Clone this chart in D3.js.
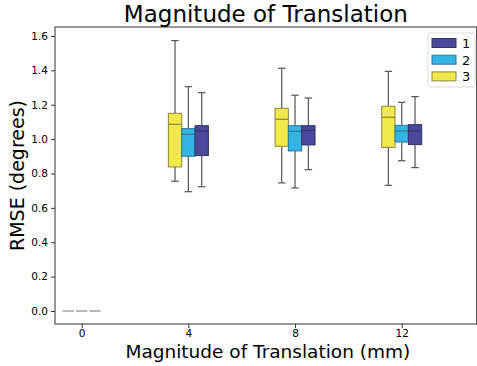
<!DOCTYPE html>
<html>
<head>
<meta charset="utf-8">
<script src="https://cdn.jsdelivr.net/npm/d3@7"></script>
<style>
  body { margin: 0; background: #fff; }
  text { font-family: "DejaVu Sans", sans-serif; fill: #000; }
</style>
</head>
<body>
<div id="chart"></div>
<script>
// categories on the x axis
const categories = ["0", "4", "8", "12"];
// series in legend order
const seriesNames = ["1", "2", "3"];
// box stats per category: [whisker low, q1, median, q3, whisker high]
const stats1 = [[0, 0, 0, 0, 0], [0.723, 0.904, 1.047, 1.078, 1.270], [0.822, 0.966, 1.051, 1.078, 1.239], [0.834, 0.968, 1.047, 1.084, 1.247]];
const stats2 = [[0, 0, 0, 0, 0], [0.694, 0.900, 1.028, 1.061, 1.305], [0.716, 0.931, 1.045, 1.078, 1.255], [0.874, 0.983, 1.047, 1.080, 1.214]];
const stats3 = [[0, 0, 0, 0, 0], [0.755, 0.838, 1.086, 1.150, 1.573], [0.745, 0.958, 1.115, 1.179, 1.412], [0.731, 0.952, 1.127, 1.191, 1.394]];
const yTicks = [0, 0.2, 0.4, 0.6, 0.8, 1.0, 1.2, 1.4, 1.6];

const statsBySeries = { "1": stats1, "2": stats2, "3": stats3 };
const colors = { "1": "#4a4a9c", "2": "#35b3e3", "3": "#f1e84a" };
const edges = { "1": "#333366", "2": "#2a7a99", "3": "#8a8540" };
// draw order from left to right within a group
const drawOrder = ["3", "2", "1"];

const width = 477, height = 366;
const margin = { top: 27, right: 0, bottom: 42, left: 55 };
const innerW = 421.7, innerH = height - margin.top - margin.bottom;

const svg = d3.select("#chart").append("svg")
    .attr("width", width)
    .attr("height", height);

const g = svg.append("g")
    .attr("transform", "translate(" + margin.left + "," + margin.top + ")");

const x = d3.scalePoint()
    .domain(categories)
    .range([26.7, 346.7]);

const y = d3.scaleLinear()
    .domain([-0.0756, 1.652])
    .range([innerH, 0]);

const boxW = x.step() * 0.125;

// boxes
drawOrder.forEach(function(s, si) {
  const off = (si - 1) * boxW;
  const data = statsBySeries[s].map((d, i) => ({ cat: categories[i], v: d }));
  const grp = g.append("g").attr("class", "series-" + s);

  data.forEach(function(d) {
    const cx = x(d.cat) + off;
    const [lo, q1, med, q3, hi] = d.v;
    if (hi === 0) {
      // flat group at zero
      grp.append("line")
          .attr("x1", cx - boxW / 2 + 1).attr("x2", cx + boxW / 2 - 1)
          .attr("y1", y(0)).attr("y2", y(0))
          .attr("stroke", "#888").attr("stroke-width", 1.2);
      return;
    }
    // whiskers
    grp.append("line")
        .attr("x1", cx).attr("x2", cx)
        .attr("y1", y(hi)).attr("y2", y(q3))
        .attr("stroke", "#555").attr("stroke-width", 1.2);
    grp.append("line")
        .attr("x1", cx).attr("x2", cx)
        .attr("y1", y(q1)).attr("y2", y(lo))
        .attr("stroke", "#555").attr("stroke-width", 1.2);
    [lo, hi].forEach(function(v) {
      grp.append("line")
          .attr("x1", cx - boxW * 0.28).attr("x2", cx + boxW * 0.28)
          .attr("y1", y(v)).attr("y2", y(v))
          .attr("stroke", "#555").attr("stroke-width", 1.2);
    });
    grp.append("rect")
        .attr("x", cx - boxW / 2)
        .attr("y", y(q3))
        .attr("width", boxW)
        .attr("height", y(q1) - y(q3))
        .attr("fill", colors[s])
        .attr("stroke", edges[s])
        .attr("stroke-width", 1);
    grp.append("line")
        .attr("x1", cx - boxW / 2).attr("x2", cx + boxW / 2)
        .attr("y1", y(med)).attr("y2", y(med))
        .attr("stroke", edges[s]).attr("stroke-width", 1.2);
  });
});

// axes
const xAxis = g.append("g")
    .attr("transform", "translate(0," + innerH + ")")
    .call(d3.axisBottom(x).tickSize(4).tickPadding(2));
const yAxis = g.append("g")
    .call(d3.axisLeft(y).tickValues(yTicks).tickFormat(d3.format(".1f")).tickSize(4).tickPadding(3));
[xAxis, yAxis].forEach(function(a) {
  a.select(".domain").remove();
  a.selectAll("line").attr("stroke", "#333");
  a.selectAll("text").style("font-size", "10.5px").attr("fill", "#000")
      .style("font-family", "DejaVu Sans, sans-serif");
});

// frame
g.append("rect")
    .attr("width", innerW)
    .attr("height", innerH)
    .attr("fill", "none")
    .attr("stroke", "#333")
    .attr("stroke-width", 1);

// title and labels
svg.append("text")
    .attr("x", margin.left + innerW / 2)
    .attr("y", 22)
    .attr("text-anchor", "middle")
    .style("font-size", "23px")
    .text("Magnitude of Translation");

svg.append("text")
    .attr("x", margin.left + innerW / 2 + 2)
    .attr("y", 358)
    .attr("text-anchor", "middle")
    .style("font-size", "18.5px")
    .text("Magnitude of Translation (mm)");

svg.append("text")
    .attr("transform", "translate(24," + (margin.top + innerH / 2) + ") rotate(-90)")
    .attr("text-anchor", "middle")
    .style("font-size", "19px")
    .text("RMSE (degrees)");

// legend
const legend = svg.append("g").attr("transform", "translate(428,33)");
legend.append("rect")
    .attr("width", 47).attr("height", 54)
    .attr("rx", 2)
    .attr("fill", "#fff").attr("stroke", "#ddd");
seriesNames.forEach(function(s, i) {
  const row = legend.append("g").attr("transform", "translate(0," + (10 + i * 16.7) + ")");
  row.append("rect")
      .attr("x", 4).attr("y", -4.5)
      .attr("width", 24).attr("height", 9)
      .attr("fill", colors[s]).attr("stroke", edges[s]);
  row.append("text")
      .attr("x", 34).attr("y", 5)
      .style("font-size", "13px")
      .text(s);
});
</script>
</body>
</html>
